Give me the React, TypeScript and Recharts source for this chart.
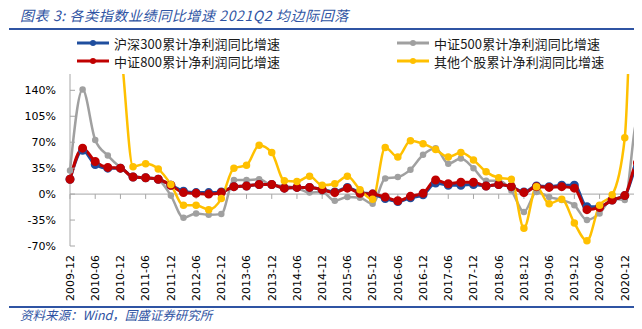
import { LineChart, Line, XAxis, YAxis, ReferenceLine } from 'recharts';

// quarterly report dates, 2009Q4 .. 2021Q2
const quarters = [
  '2009-12', '2010-03', '2010-06', '2010-09', '2010-12', '2011-03', '2011-06', '2011-09',
  '2011-12', '2012-03', '2012-06', '2012-09', '2012-12', '2013-03', '2013-06', '2013-09',
  '2013-12', '2014-03', '2014-06', '2014-09', '2014-12', '2015-03', '2015-06', '2015-09',
  '2015-12', '2016-03', '2016-06', '2016-09', '2016-12', '2017-03', '2017-06', '2017-09',
  '2017-12', '2018-03', '2018-06', '2018-09', '2018-12', '2019-03', '2019-06', '2019-09',
  '2019-12', '2020-03', '2020-06', '2020-09', '2020-12', '2021-03', '2021-06',
];

// cumulative net profit yoy growth, %
const hs300 = [
  20, 59, 40, 35, 35, 23, 22, 20, 12, 4, 2, 2, 3, 10, 11, 13, 13, 8, 9, 9, 6, 3, 9, 2,
  0, -6, -10, -5, -1, 15, 12, 12, 13, 11, 13, 10, 3, 11, 10, 12, 12, -17, -17, -8, -2, 36, 34,
];
const zz500 = [
  32, 141, 73, 52, 36, 24, 22, 19, -2, -32, -26, -28, -27, 19, 19, 20, 12, 11, 8, 2, 3, -9, -4, -5,
  -13, 21, 23, 33, 53, 62, 41, 48, 35, 18, 18, 5, -24, 3, -4, -8, -15, -35, -26, -6, -8, 100, 45,
];
const zz800 = [
  20, 62, 44, 36, 35, 23, 22, 20, 12, 2, 1, 0, 2, 10, 11, 13, 13, 8, 9, 9, 6, 2, 8, 1,
  0, -4, -9, -3, 1, 19, 14, 16, 16, 11, 13, 10, 2, 10, 9, 10, 8, -21, -18, -8, -2, 42, 38,
];
const others = [
  350, 330, 300, 260, 200, 37, 41, 34, 13, -15, -15, -21, -6, 35, 39, 66, 56, 18, 17, 24, 12, 14, 24, 6,
  -7, 63, 50, 72, 68, 60, 50, 56, 46, 30, 22, 20, -46, 10, -13, -7, -39, -63, -15, -1, 76, 450, 350,
];

const xTickLabels = [
  '2009-12', '2010-06', '2010-12', '2011-06', '2011-12', '2012-06', '2012-12', '2013-06',
  '2013-12', '2014-06', '2014-12', '2015-06', '2015-12', '2016-06', '2016-12', '2017-06',
  '2017-12', '2018-06', '2018-12', '2019-06', '2019-12', '2020-06', '2020-12',
];
const yTicks = [-70, -35, 0, 35, 70, 105, 140];

const data = quarters.map((q, i) => ({
  q,
  hs300: hs300[i],
  zz500: zz500[i],
  zz800: zz800[i],
  others: others[i],
}));

const BLUE = '#1F4E9E';
const GRAY = '#A0A0A0';
const RED = '#C00000';
const YELLOW = '#FFC000';
const AXIS = '#A6A6A6';
const NAVY = '#2F54A3';

const tickFont = '"DejaVu Sans", Verdana, sans-serif';
const cjkFont = '"Noto Sans CJK SC", "Noto Sans", sans-serif';

function XTick({ x, y, payload }: any) {
  return (
    <text
      x={x}
      y={y}
      transform={`rotate(-90 ${x} ${y})`}
      textAnchor="end"
      dy="0.35em"
      fontSize={11}
      fontFamily={tickFont}
      fill="#000"
    >
      {payload.value}
    </text>
  );
}

function YTick({ x, y, payload }: any) {
  return (
    <g>
      <text x={x} y={y} dy="0.35em" textAnchor="end" fontSize={11} fontFamily={tickFont} fill="#000">
        {payload.value}%
      </text>
      <line x1={x + 14} x2={x + 19} y1={y} y2={y} stroke={AXIS} />
    </g>
  );
}

function LegendItem({ color, label, left, top }: { color: string; label: string; left: number; top: number }) {
  return (
    <div style={{ position: 'absolute', left, top, display: 'flex', alignItems: 'center', height: 16 }}>
      <svg width={32} height={10} style={{ marginRight: 5 }}>
        <line x1={0} x2={32} y1={5} y2={5} stroke={color} strokeWidth={3} />
        <circle cx={16} cy={5} r={3} fill={color} />
      </svg>
      <span style={{ fontFamily: cjkFont, fontSize: 13, letterSpacing: 0.1, color: '#1a1a1a', whiteSpace: 'nowrap' }}>
        {label}
      </span>
    </div>
  );
}

export default function App() {
  return (
    <div style={{ position: 'relative', width: 642, height: 329, margin: -8, overflow: 'hidden', background: '#fff' }}>
      <div
        style={{
          position: 'absolute', left: 20, top: 6, fontFamily: cjkFont, fontStyle: 'italic',
          fontSize: 14, letterSpacing: 0.6, lineHeight: '18px', color: NAVY, whiteSpace: 'nowrap',
        }}
      >
        图表 3:  各类指数业绩同比增速 2021Q2 均边际回落
      </div>
      <div style={{ position: 'absolute', left: 9, right: 0, top: 28, height: 2, background: NAVY }} />

      <div style={{ position: 'absolute', left: 0, top: 0 }}>
        <LineChart width={700} height={329} data={data} margin={{ top: 74, right: 50, bottom: 0, left: 0 }}>
          <XAxis
            dataKey="q"
            ticks={xTickLabels}
            interval={0}
            axisLine={false}
            tickLine={false}
            tickSize={0}
            tickMargin={9}
            height={83}
            tick={<XTick />}
          />
          <YAxis
            domain={[-70, 162]}
            ticks={yTicks}
            allowDataOverflow
            width={70}
            axisLine={{ stroke: AXIS }}
            tickLine={false}
            tickSize={0}
            tickMargin={14}
            tick={<YTick />}
          />
          <ReferenceLine y={0} stroke={AXIS} />
          {xTickLabels.map((t) => (
            <ReferenceLine key={t} segment={[{ x: t, y: 0 }, { x: t, y: -6.5 }]} stroke={AXIS} />
          ))}
          <Line type="monotone" dataKey="zz500" stroke={GRAY} strokeWidth={2.5}
            dot={{ r: 2, fill: GRAY, stroke: GRAY }} isAnimationActive={false} />
          <Line type="monotone" dataKey="hs300" stroke={BLUE} strokeWidth={3}
            dot={{ r: 3, fill: BLUE, stroke: BLUE }} isAnimationActive={false} />
          <Line type="monotone" dataKey="zz800" stroke={RED} strokeWidth={3}
            dot={{ r: 3, fill: RED, stroke: RED }} isAnimationActive={false} />
          <Line type="monotone" dataKey="others" stroke={YELLOW} strokeWidth={2.5}
            dot={{ r: 2.5, fill: YELLOW, stroke: YELLOW }} isAnimationActive={false} />
        </LineChart>
      </div>

      <LegendItem color={BLUE} label="沪深300累计净利润同比增速" left={77} top={35} />
      <LegendItem color={RED} label="中证800累计净利润同比增速" left={77} top={53} />
      <LegendItem color={GRAY} label="中证500累计净利润同比增速" left={397} top={35} />
      <LegendItem color={YELLOW} label="其他个股累计净利润同比增速" left={397} top={53} />

      <div style={{ position: 'absolute', left: 9, right: 0, top: 306, height: 2, background: NAVY }} />
      <div
        style={{
          position: 'absolute', left: 20, top: 307, fontFamily: cjkFont, fontStyle: 'italic',
          fontSize: 12.5, lineHeight: '16px', color: NAVY, whiteSpace: 'nowrap',
        }}
      >
        资料来源：Wind，国盛证券研究所
      </div>
    </div>
  );
}
